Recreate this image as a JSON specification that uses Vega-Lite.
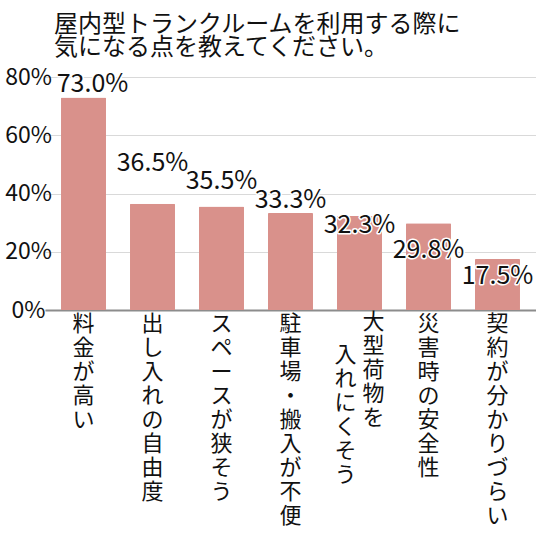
{
  "$schema": "https://vega.github.io/schema/vega-lite/v6.json",
  "width": 491,
  "height": 233,
  "autosize": "none",
  "padding": {"left": 45, "top": 77, "right": 0, "bottom": 226},
  "background": "white",
  "title": {
    "text": ["屋内型トランクルームを利用する際に", "気になる点を教えてください。"],
    "anchor": "start",
    "frame": "group",
    "dx": 9,
    "offset": 6,
    "fontSize": 24,
    "fontWeight": "normal",
    "lineHeight": 23.5,
    "color": "#111111",
    "font": "Noto Sans CJK JP"
  },
  "config": {
    "view": {"stroke": null},
    "font": "Noto Sans CJK JP"
  },
  "data": {
    "values": [
      {"item": "料金が高い", "value": 0.730},
      {"item": "出し入れの自由度", "value": 0.365},
      {"item": "スペースが狭そう", "value": 0.355},
      {"item": "駐車場・搬入が不便", "value": 0.333},
      {"item": "大型荷物を入れにくそう", "value": 0.323},
      {"item": "災害時の安全性", "value": 0.298},
      {"item": "契約が分かりづらい", "value": 0.175}
    ]
  },
  "encoding": {
    "x": {
      "field": "item",
      "type": "nominal",
      "sort": null,
      "scale": {"paddingInner": 0.348, "paddingOuter": 0.232},
      "axis": {
        "title": null,
        "labelAngle": 0,
        "labelAlign": "center",
        "labelBaseline": "top",
        "labelFontSize": 22,
        "labelLineHeight": 24,
        "labelColor": "#111111",
        "labelPadding": 3,
        "labelLimit": 1000,
        "labelOverlap": false,
        "labelBound": false,
        "labelExpr": "datum.value == '大型荷物を入れにくそう' ? '' : split(datum.label, '')",
        "ticks": false,
        "domainColor": "#8c8c8c",
        "domainWidth": 2
      }
    },
    "y": {
      "field": "value",
      "type": "quantitative",
      "scale": {"domain": [0, 0.8]},
      "axis": {
        "title": null,
        "format": ".0%",
        "values": [0, 0.2, 0.4, 0.6, 0.8],
        "grid": true,
        "gridColor": "#d9d9d9",
        "domain": false,
        "ticks": false,
        "labelAlign": "center",
        "labelBaseline": "middle",
        "labelPadding": 17,
        "labelFontSize": 23,
        "labelColor": "#111111"
      }
    }
  },
  "layer": [
    {
      "mark": {"type": "bar", "color": "#d9918b", "cornerRadiusTopLeft": 1, "cornerRadiusTopRight": 1}
    },
    {
      "transform": [
        {"filter": "datum.item == '大型荷物を入れにくそう'"},
        {"calculate": "split(substring(datum.item, 0, 5), '')", "as": "col1"}
      ],
      "mark": {"type": "text", "align": "center", "baseline": "top", "fontSize": 22, "lineHeight": 24, "color": "#111111", "dx": 14, "dy": 2},
      "encoding": {
        "y": {"datum": 0},
        "text": {"field": "col1"}
      }
    },
    {
      "transform": [
        {"filter": "datum.item == '大型荷物を入れにくそう'"},
        {"calculate": "split(substring(datum.item, 5), '')", "as": "col2"}
      ],
      "mark": {"type": "text", "align": "center", "baseline": "top", "fontSize": 22, "lineHeight": 24, "color": "#111111", "dx": -14, "dy": 35},
      "encoding": {
        "y": {"datum": 0},
        "text": {"field": "col2"}
      }
    },
    {
      "mark": {
        "type": "text",
        "align": "center",
        "baseline": "alphabetic",
        "fontSize": 25,
        "stroke": "white",
        "strokeWidth": 3,
        "strokeJoin": "round",
        "dx": {"expr": "datum.item == '料金が高い' ? 9 : 0"},
        "dy": {"expr": "[-5, -33, -18, -5, 17, 35, 25][indexof(['料金が高い', '出し入れの自由度', 'スペースが狭そう', '駐車場・搬入が不便', '大型荷物を入れにくそう', '災害時の安全性', '契約が分かりづらい'], datum.item)]"}
      },
      "encoding": {"text": {"field": "value", "type": "quantitative", "format": ".1%"}}
    },
    {
      "mark": {
        "type": "text",
        "align": "center",
        "baseline": "alphabetic",
        "fontSize": 25,
        "color": "#111111",
        "dx": {"expr": "datum.item == '料金が高い' ? 9 : 0"},
        "dy": {"expr": "[-5, -33, -18, -5, 17, 35, 25][indexof(['料金が高い', '出し入れの自由度', 'スペースが狭そう', '駐車場・搬入が不便', '大型荷物を入れにくそう', '災害時の安全性', '契約が分かりづらい'], datum.item)]"}
      },
      "encoding": {"text": {"field": "value", "type": "quantitative", "format": ".1%"}}
    }
  ]
}
